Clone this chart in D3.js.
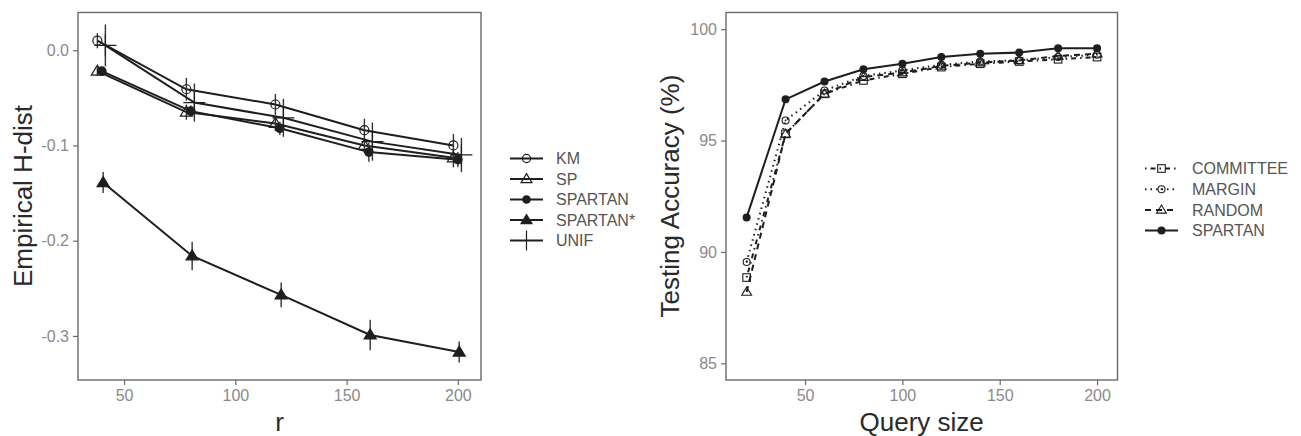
<!DOCTYPE html>
<html><head><meta charset="utf-8">
<script src="https://cdn.jsdelivr.net/npm/d3@7/dist/d3.min.js"></script>
<style>
html,body{margin:0;padding:0;background:#fff;}
svg text{font-family:"Liberation Sans",Arial,sans-serif;}
</style></head>
<body>
<svg id="c" width="1301" height="436"></svg>
<script>
// ---------------- LEFT PANEL DATA ----------------
const leftR = [40, 80, 120, 160, 200];
const leftSeries = ["KM", "SP", "SPARTAN", "SPARTAN*", "UNIF"];
const kmMean      = [0.010, -0.041, -0.057, -0.084, -0.100];
const kmErr       = [0.008, 0.012, 0.011, 0.012, 0.012];
const spMean      = [-0.022, -0.065, -0.077, -0.100, -0.113];
const spErr       = [0.005, 0.008, 0.008, 0.008, 0.010];
const spartanMean = [-0.022, -0.064, -0.082, -0.107, -0.115];
const spartanErr  = [0.004, 0.006, 0.007, 0.010, 0.008];
const spartanStarMean = [-0.139, -0.216, -0.257, -0.299, -0.317];
const spartanStarErr  = [0.011, 0.015, 0.013, 0.016, 0.011];
const unifMean    = [0.005, -0.055, -0.071, -0.096, -0.110];
const unifErr     = [0.022, 0.020, 0.020, 0.020, 0.018];
const leftXTicks = [50, 100, 150, 200];
const leftYTicks = [0.0, -0.1, -0.2, -0.3];
const leftYTickLabels = ["0.0", "-0.1", "-0.2", "-0.3"];

// ---------------- RIGHT PANEL DATA ----------------
const querySize = [20, 40, 60, 80, 100, 120, 140, 160, 180, 200];
const rightSeries = ["COMMITTEE", "MARGIN", "RANDOM", "SPARTAN"];
const committeeAcc = [88.85, 95.30, 97.10, 97.70, 98.00, 98.30, 98.45, 98.55, 98.65, 98.75];
const marginAcc    = [89.55, 95.90, 97.25, 97.90, 98.15, 98.40, 98.55, 98.60, 98.75, 98.85];
const randomAcc    = [88.20, 95.30, 97.10, 97.85, 98.05, 98.35, 98.50, 98.60, 98.80, 98.90];
const spartanAcc   = [91.55, 96.85, 97.65, 98.20, 98.45, 98.75, 98.90, 98.95, 99.15, 99.15];
const rightXTicks = [50, 100, 150, 200];
const rightYTicks = [85, 90, 95, 100];

// ---------------- STYLE ----------------
const ink = "#1e1e1e";
const tickCol = "#8a8a8a";
const frameCol = "#6a6a6a";
const titleCol = "#2a2a2a";
const legendCol = "#555";

const svg = d3.select("#c");

// ---------- LEFT ----------
const L = {x0: 78, x1: 481, y0: 12.5, y1: 380};
const lx = d3.scaleLinear().domain([29.3, 210.4]).range([L.x0, L.x1]);
const ly = d3.scaleLinear().domain([-0.3463, 0.0396]).range([L.y1, L.y0]);

const dodge = {"KM": -2, "SP": -2, "SPARTAN": 0, "SPARTAN*": 0.6, "UNIF": 1.6};
const leftData = {
  "KM": [kmMean, kmErr],
  "SP": [spMean, spErr],
  "SPARTAN": [spartanMean, spartanErr],
  "SPARTAN*": [spartanStarMean, spartanStarErr],
  "UNIF": [unifMean, unifErr]
};

function drawShape(g, shape, x, y, s, col, sw) {
  if (shape === "circleOpen") {
    g.append("circle").attr("cx", x).attr("cy", y).attr("r", s).attr("fill", "none").attr("stroke", col).attr("stroke-width", sw);
  } else if (shape === "circle") {
    g.append("circle").attr("cx", x).attr("cy", y).attr("r", s).attr("fill", col);
  } else if (shape === "triangleOpen" || shape === "triangle") {
    const h = s * 1.8, w = s * 1.1;
    g.append("path").attr("d", `M${x},${y - h * 0.6}L${x + w},${y + h * 0.4}L${x - w},${y + h * 0.4}Z`)
      .attr("fill", shape === "triangle" ? col : "none").attr("stroke", col).attr("stroke-width", sw);
  } else if (shape === "plus") {
    g.append("path").attr("d", `M${x - s},${y}H${x + s}M${x},${y - s}V${y + s}`).attr("stroke", col).attr("stroke-width", sw).attr("fill", "none");
  } else if (shape === "squareOpen") {
    g.append("rect").attr("x", x - s).attr("y", y - s).attr("width", 2 * s).attr("height", 2 * s).attr("fill", "none").attr("stroke", col).attr("stroke-width", sw);
  } else if (shape === "circleDot") {
    g.append("circle").attr("cx", x).attr("cy", y).attr("r", s).attr("fill", "none").attr("stroke", col).attr("stroke-width", sw);
    g.append("circle").attr("cx", x).attr("cy", y).attr("r", 0.9).attr("fill", col);
  }
}

const leftShapes = {"KM": "circleOpen", "SP": "triangleOpen", "SPARTAN": "circle", "SPARTAN*": "triangle", "UNIF": "plus"};
const leftSizes = {"KM": 4.5, "SP": 5.5, "SPARTAN": 4.8, "SPARTAN*": 5.5, "UNIF": 11};

function frame(P) {
  svg.append("rect").attr("x", P.x0).attr("y", P.y0).attr("width", P.x1 - P.x0).attr("height", P.y1 - P.y0)
    .attr("fill", "none").attr("stroke", frameCol).attr("stroke-width", 1.4);
}

function axes(P, xs, ys, xt, yt, ytl) {
  const gx = svg.append("g").attr("transform", `translate(0,${P.y1})`)
    .call(d3.axisBottom(xs).tickValues(xt).tickSize(5).tickPadding(5).tickFormat(d3.format("d")));
  const gy = svg.append("g").attr("transform", `translate(${P.x0},0)`)
    .call(d3.axisLeft(ys).tickValues(yt).tickSize(5).tickPadding(4).tickFormat((d, i) => ytl ? ytl[i] : d3.format("d")(d)));
  [gx, gy].forEach(g => {
    g.select(".domain").remove();
    g.selectAll(".tick line").attr("stroke", frameCol).attr("stroke-width", 1.2);
    g.selectAll(".tick text").attr("fill", tickCol).attr("font-size", 16).attr("font-family", "Liberation Sans, Arial, sans-serif");
  });
}

axes(L, lx, ly, leftXTicks, leftYTicks, leftYTickLabels);

const lg = svg.append("g");
const line = d3.line();
leftSeries.forEach(s => {
  const [m, e] = leftData[s];
  const pts = leftR.map((r, i) => [lx(r + dodge[s]), ly(m[i])]);
  lg.append("path").attr("d", line(pts)).attr("fill", "none").attr("stroke", ink).attr("stroke-width", 2);
});
leftSeries.forEach(s => {
  const [m, e] = leftData[s];
  leftR.forEach((r, i) => {
    const x = lx(r + dodge[s]);
    lg.append("line").attr("x1", x).attr("x2", x).attr("y1", ly(m[i] - e[i])).attr("y2", ly(m[i] + e[i]))
      .attr("stroke", "#333").attr("stroke-width", 1.4);
    drawShape(lg, leftShapes[s], x, ly(m[i]), leftSizes[s], ink, 1.2);
  });
});
frame(L);

// left legend
const legL = svg.append("g");
leftSeries.forEach((s, i) => {
  const y = 158.5 + i * 20.5;
  legL.append("line").attr("x1", 510).attr("x2", 543).attr("y1", y).attr("y2", y).attr("stroke", ink).attr("stroke-width", 2);
  drawShape(legL, leftShapes[s], 526.5, y, s === "UNIF" ? 10 : leftSizes[s] * 0.9, ink, 1.2);
  legL.append("text").attr("x", 556).attr("y", y + 5.8).attr("font-size", 16).attr("fill", legendCol).text(s);
});

// left titles
svg.append("text").attr("x", 279.5).attr("y", 431).attr("text-anchor", "middle").attr("font-size", 26).attr("fill", titleCol).text("r");
svg.append("text").attr("transform", "translate(32,196) rotate(-90)").attr("text-anchor", "middle").attr("font-size", 26).attr("fill", titleCol).text("Empirical H-dist");

// ---------- RIGHT ----------
const R = {x0: 726, x1: 1117.5, y0: 12.5, y1: 380};
const rx = d3.scaleLinear().domain([9.4, 210.5]).range([R.x0, R.x1]);
const ry = d3.scaleLinear().domain([84.25, 100.75]).range([R.y1, R.y0]);
axes(R, rx, ry, rightXTicks, rightYTicks, null);

const rightData = {"COMMITTEE": committeeAcc, "MARGIN": marginAcc, "RANDOM": randomAcc, "SPARTAN": spartanAcc};
const rightDash = {"COMMITTEE": "1.5,4,5,4", "MARGIN": "1.5,4", "RANDOM": "6,5", "SPARTAN": null};
const rightShapes = {"COMMITTEE": "squareOpen", "MARGIN": "circleDot", "RANDOM": "triangleOpen", "SPARTAN": "circle"};
const rightSizes = {"COMMITTEE": 3.8, "MARGIN": 3.5, "RANDOM": 4.5, "SPARTAN": 4};

const rg = svg.append("g");
rightSeries.forEach(s => {
  const pts = querySize.map((q, i) => [rx(q), ry(rightData[s][i])]);
  const p = rg.append("path").attr("d", line(pts)).attr("fill", "none").attr("stroke", ink).attr("stroke-width", 2);
  if (rightDash[s]) p.attr("stroke-dasharray", rightDash[s]);
  querySize.forEach((q, i) => drawShape(rg, rightShapes[s], rx(q), ry(rightData[s][i]), rightSizes[s], ink, 1.1));
});
frame(R);

const legR = svg.append("g");
rightSeries.forEach((s, i) => {
  const y = 168.5 + i * 20.7;
  const ln = legR.append("line").attr("x1", 1145).attr("x2", 1178).attr("y1", y).attr("y2", y).attr("stroke", ink).attr("stroke-width", 2);
  if (rightDash[s]) ln.attr("stroke-dasharray", rightDash[s]);
  drawShape(legR, rightShapes[s], 1161.5, y, rightSizes[s], ink, 1.1);
  legR.append("text").attr("x", 1192).attr("y", y + 5.8).attr("font-size", 16).attr("fill", legendCol).text(s);
});

svg.append("text").attr("x", 921.7).attr("y", 431).attr("text-anchor", "middle").attr("font-size", 26).attr("fill", titleCol).text("Query size");
svg.append("text").attr("transform", "translate(679,196) rotate(-90)").attr("text-anchor", "middle").attr("font-size", 26).attr("fill", titleCol).text("Testing Accuracy (%)");
</script>
</body></html>
